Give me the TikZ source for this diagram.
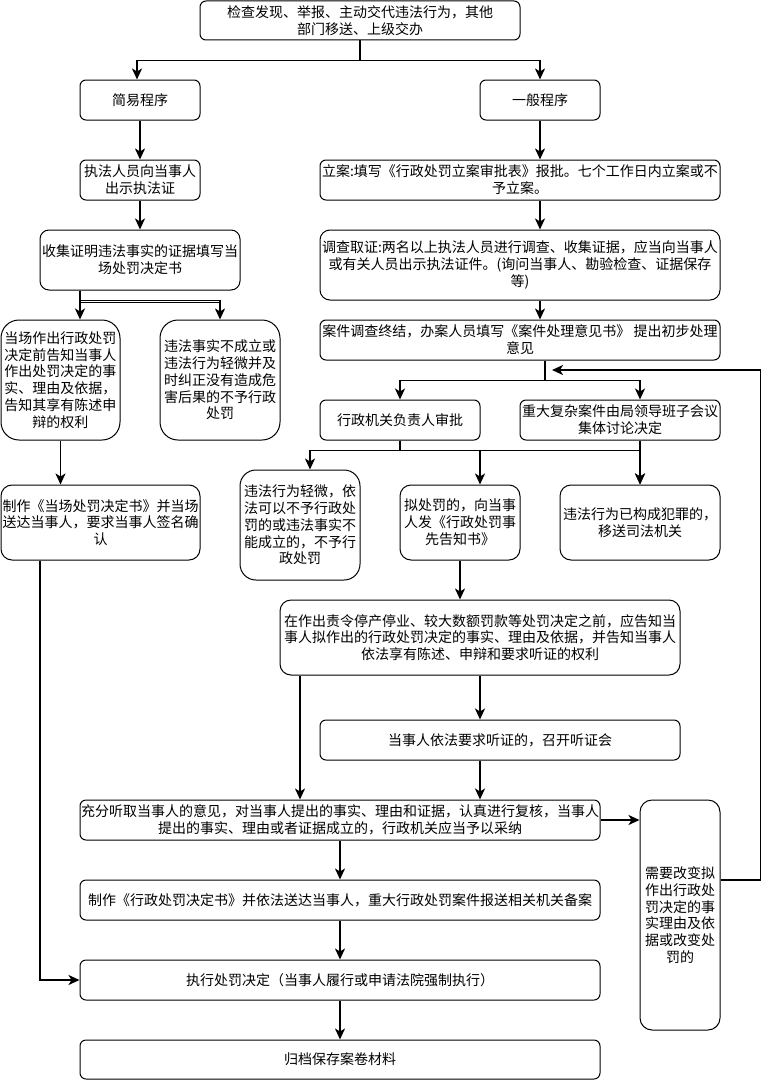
\documentclass[tikz,border=0pt]{standalone}
\usepackage{fontspec}
\setmainfont{Noto Sans CJK SC}
\usetikzlibrary{arrows.meta,calc}
\tikzset{
  box/.style={draw=black, line width=1pt, fill=white, rounded corners=6pt,
    inner sep=0pt, align=center, font=\fontsize{14}{16.8}\selectfont},
  arr/.style={line width=1.8pt, -{Stealth[length=11pt,width=10pt,inset=3pt]}},
  ln/.style={line width=1.8pt}
}
\begin{document}
\begin{tikzpicture}[x=1pt,y=-1pt]
\useasboundingbox (0,0) rectangle (770,1081);
% left column
\node[box, minimum width=320pt, minimum height=39pt] (top) at (360,20.5) {检查发现、举报、主动交代违法行为，其他\\部门移送、上级交办};
\node[box, minimum width=120pt, minimum height=40pt] (jianyi) at (140,100) {简易程序};
\node[box, minimum width=120pt, minimum height=40pt] (yiban) at (540,100) {一般程序};
\node[box, minimum width=120pt, minimum height=40pt] (zhifa) at (140,180) {执法人员向当事人\\出示执法证};
\node[box, minimum width=200pt, minimum height=60pt, rounded corners=9pt] (shouji) at (140,260) {收集证明违法事实的证据填写当\\场处罚决定书};
\node[box, minimum width=119pt, minimum height=120pt, rounded corners=18pt] (dangchang) at (60.5,380) {当场作出行政处罚\\决定前告知当事人\\作出处罚决定的事\\实、理由及依据，\\告知其享有陈述申\\辩的权利};
\node[box, minimum width=120pt, minimum height=120pt, rounded corners=18pt] (buchengli) at (220,380) {违法事实不成立或\\违法行为轻微并及\\时纠正没有造成危\\害后果的不予行政\\处罚};
\node[box, minimum width=199pt, minimum height=75pt, rounded corners=11pt] (zhizuo1) at (100.5,522.5) {制作《当场处罚决定书》并当场\\送达当事人，要求当事人签名确\\认};
% right column
\node[box, minimum width=400pt, minimum height=40pt] (lian) at (520,180) {立案:填写《行政处罚立案审批表》报批。七个工作日内立案或不\\予立案。};
\node[box, minimum width=400pt, minimum height=70pt, rounded corners=10pt] (diaocha) at (520,265) {调查取证:两名以上执法人员进行调查、收集证据，应当向当事人\\或有关人员出示执法证件。(询问当事人、勘验检查、证据保存\\等)};
\node[box, minimum width=400pt, minimum height=40pt] (zhongjie) at (520,340) {案件调查终结，办案人员填写《案件处理意见书》 提出初步处理\\意见};
\node[box, minimum width=160pt, minimum height=40pt] (shenpi) at (400,420) {行政机关负责人审批};
\node[box, minimum width=200pt, minimum height=40pt] (zhongda) at (620,420) {重大复杂案件由局领导班子会议\\集体讨论决定};
\node[box, minimum width=120pt, minimum height=110pt, rounded corners=16pt] (qingwei) at (300,525) {违法行为轻微，依\\法可以不予行政处\\罚的或违法事实不\\能成立的，不予行\\政处罚};
\node[box, minimum width=120pt, minimum height=75pt, rounded corners=11pt] (nichufa) at (460,522.5) {拟处罚的，向当事\\人发《行政处罚事\\先告知书》};
\node[box, minimum width=160pt, minimum height=75pt, rounded corners=11pt] (fanzui) at (640,522.5) {违法行为已构成犯罪的，\\移送司法机关};
\node[box, minimum width=400pt, minimum height=75pt, rounded corners=11pt] (gaozhi) at (480,637.5) {在作出责令停产停业、较大数额罚款等处罚决定之前，应告知当\\事人拟作出的行政处罚决定的事实、理由及依据，并告知当事人\\依法享有陈述、申辩和要求听证的权利};
\node[box, minimum width=360pt, minimum height=40pt] (tingzheng) at (500,740) {当事人依法要求听证的，召开听证会};
\node[box, minimum width=520pt, minimum height=40pt] (chongfen) at (340,820) {充分听取当事人的意见，对当事人提出的事实、理由和证据，认真进行复核，当事人\\提出的事实、理由或者证据成立的，行政机关应当予以采纳};
\node[box, minimum width=520pt, minimum height=40pt] (zhizuo2) at (340,900) {制作《行政处罚决定书》并依法送达当事人，重大行政处罚案件报送相关机关备案};
\node[box, minimum width=520pt, minimum height=40pt] (zhixing) at (340,980) {执行处罚决定（当事人履行或申请法院强制执行）};
\node[box, minimum width=520pt, minimum height=39pt] (guidang) at (340,1059.5) {归档保存案卷材料};
\node[box, minimum width=80pt, minimum height=230pt, rounded corners=12pt] (gaibian) at (680,915) {需要改变拟\\作出行政处\\罚决定的事\\实理由及依\\据或改变处\\罚的};
\coordinate (ret) at (552,370);
% connectors
\draw[arr] (top.south) -- ++(0,20) -| ([xshift=-3pt]jianyi.north);
\draw[arr] (top.south) -- ++(0,20) -| (yiban.north);
\draw[arr] (jianyi.south) -- (zhifa.north);
\draw[arr] (zhifa.south) -- (shouji.north);
\coordinate (s1) at ([xshift=-60pt]shouji.south);
\draw[arr] (s1) -- (s1 |- dangchang.north);
\draw[arr] (s1) -- ++(0,10) -| (buchengli.north);
\draw[ln] (s1) ++(0,12) -- ++(140,0);
\draw[arr] (dangchang.south) -- (dangchang.south |- zhizuo1.north);
\draw[arr] ([xshift=-60.5pt]zhizuo1.south) |- (zhixing.west);
\draw[arr] (yiban.south) -- (yiban.south |- lian.north);
\draw[arr] ([xshift=20pt]lian.south) -- ([xshift=20pt]lian.south |- diaocha.north);
\draw[arr] ([xshift=20pt]diaocha.south) -- ([xshift=20pt]diaocha.south |- zhongjie.north);
\draw[arr] ([xshift=25pt]zhongjie.south) -- ++(0,20) -| (shenpi.north);
\draw[arr] ([xshift=25pt]zhongjie.south) -- ++(0,20) -| ([xshift=20pt]zhongda.north);
\draw[arr] (shenpi.south) -- ++(0,10) -| ([xshift=10pt]qingwei.north);
\draw[arr] (shenpi.south) -- ++(0,10) -| ([xshift=20pt]nichufa.north);
\draw[arr] (shenpi.south) -- ++(0,10) -| (fanzui.north);
\draw[arr] ([xshift=20pt]zhongda.south) -- (fanzui.north);
\draw[arr] (nichufa.south) -- (nichufa.south |- gaozhi.north);
\draw[arr] ([xshift=-180pt]gaozhi.south) -- ([xshift=-180pt]gaozhi.south |- chongfen.north);
\draw[arr] (gaozhi.south) -- (gaozhi.south |- tingzheng.north);
\draw[arr] ([xshift=-20pt]tingzheng.south) -- ([xshift=-20pt]tingzheng.south |- chongfen.north);
\draw[arr] (chongfen.east) -- (chongfen.east -| gaibian.west);
\draw[arr] ([yshift=35pt]gaibian.east) -- ++(40,0) |- (ret);
\draw[arr] (chongfen.south) -- (zhizuo2.north);
\draw[arr] (zhizuo2.south) -- (zhixing.north);
\draw[arr] (zhixing.south) -- (guidang.north);
\end{tikzpicture}
\end{document}
